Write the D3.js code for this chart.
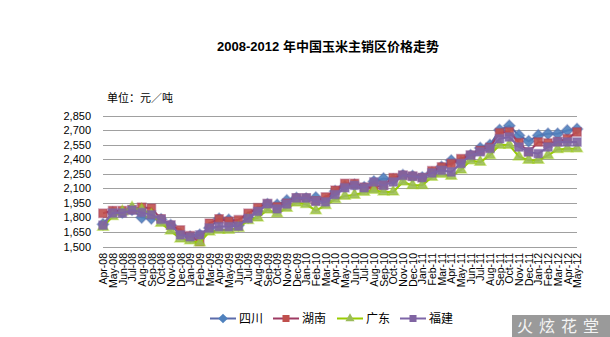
<!DOCTYPE html>
<html>
<head>
<meta charset="utf-8">
<script src="https://cdn.jsdelivr.net/npm/d3@7"></script>
<style>
  html, body { margin: 0; padding: 0; background: #fff; }
  svg { display: block; font-family: Arial, "Liberation Sans", "Noto Sans CJK SC", sans-serif; }
</style>
</head>
<body>
<svg id="chart" width="610" height="337"></svg>
<script>
// Monthly maize prices (yuan/ton) in the main consuming regions, Apr 2008 - May 2012
const months = [
  "Apr-08","May-08","Jun-08","Jul-08","Aug-08","Sep-08","Oct-08","Nov-08","Dec-08",
  "Jan-09","Feb-09","Mar-09","Apr-09","May-09","Jun-09","Jul-09","Aug-09","Sep-09","Oct-09","Nov-09","Dec-09",
  "Jan-10","Feb-10","Mar-10","Apr-10","May-10","Jun-10","Jul-10","Aug-10","Sep-10","Oct-10","Nov-10","Dec-10",
  "Jan-11","Feb-11","Mar-11","Apr-11","May-11","Jun-11","Jul-11","Aug-11","Sep-11","Oct-11","Nov-11","Dec-11",
  "Jan-12","Feb-12","Mar-12","Apr-12","May-12"
];

const sichuan = [
  1730,1850,1850,1880,1800,1790,1780,1720,1630,
  1600,1620,1690,1785,1775,1720,1800,1860,1935,1930,1975,2000,
  1995,2005,1970,2070,2120,2135,2110,2170,2200,2190,2235,2225,
  2210,2260,2320,2385,2370,2440,2515,2545,2700,2745,2645,2585,
  2645,2662,2662,2696,2710
];
const hunan = [
  1842,1870,1870,1880,1905,1895,1785,1720,1670,
  1610,1550,1740,1785,1760,1775,1842,1900,1940,1910,1945,2000,
  2000,1970,2010,2080,2150,2150,2110,2110,2130,2210,2235,2225,
  2210,2280,2320,2355,2405,2440,2490,2520,2672,2682,2570,2475,
  2577,2566,2580,2611,2680
];
const guangdong = [
  1700,1810,1860,1900,1880,1830,1740,1660,1580,
  1560,1540,1650,1670,1670,1690,1770,1795,1878,1840,1895,1950,
  1935,1870,1923,1985,2020,2030,2060,2080,2062,2062,2165,2130,
  2130,2215,2245,2225,2290,2385,2370,2440,2545,2545,2425,2390,
  2390,2440,2500,2508,2508
];
const fujian = [
  1720,1845,1845,1875,1850,1826,1780,1720,1620,
  1600,1620,1690,1705,1705,1710,1790,1862,1940,1888,1938,2000,
  2000,1965,1960,2035,2105,2130,2105,2165,2130,2165,2233,2223,
  2210,2258,2285,2268,2355,2440,2475,2510,2610,2628,2525,2475,
  2457,2525,2577,2577,2577
];
const yTicks = [1500,1650,1800,1950,2100,2250,2400,2550,2700,2850];

const series = [
  { name: "四川", values: sichuan,   line: "#5B6BAA", fill: "#4F81BD", shape: d3.symbolDiamond2, size: 85 },
  { name: "湖南", values: hunan,     line: "#9E3A63", fill: "#C0504D", shape: d3.symbolSquare2,  size: 90 },
  { name: "广东", values: guangdong, line: "#99CC00", fill: "#9BBB59", shape: d3.symbolTriangle2, size: 85 },
  { name: "福建", values: fujian,    line: "#7E66A8", fill: "#8064A2", shape: d3.symbolSquare2,  size: 90 }
];

const svg = d3.select("#chart");

const x = d3.scalePoint().domain(months).range([103, 577]);
const y = d3.scaleLinear().domain([1500, 2850]).range([246.5, 115.5]);

// Title and unit
svg.append("text")
  .attr("x", 328).attr("y", 51)
  .attr("text-anchor", "middle")
  .attr("font-size", 13).attr("font-weight", "bold")
  .attr("fill", "#000")
  .text("2008-2012 年中国玉米主销区价格走势");

svg.append("text")
  .attr("x", 107).attr("y", 102)
  .attr("font-size", 11)
  .attr("fill", "#000")
  .text("单位：元／吨");

// Horizontal gridlines
svg.append("g")
  .selectAll("line")
  .data(yTicks)
  .join("line")
  .attr("x1", 103).attr("x2", 577)
  .attr("y1", d => Math.round(y(d)) + 0.5)
  .attr("y2", d => Math.round(y(d)) + 0.5)
  .attr("stroke", "#A0A0A0").attr("stroke-width", 1);

// Y axis labels
const yAxis = d3.axisLeft(y).tickValues(yTicks).tickFormat(d3.format(",")).tickSize(0).tickPadding(0);
svg.append("g")
  .attr("transform", "translate(91,0)")
  .call(yAxis)
  .call(g => g.select(".domain").remove())
  .call(g => g.selectAll("text")
    .attr("font-size", 11).attr("fill", "#000")
    .attr("font-family", "Arial, 'Liberation Sans', sans-serif"));

// X axis labels (rotated)
const xAxis = d3.axisBottom(x).tickSize(0).tickPadding(0);
svg.append("g")
  .attr("transform", "translate(0,253)")
  .call(xAxis)
  .call(g => g.select(".domain").remove())
  .call(g => g.selectAll("text")
    .attr("font-size", 10.5).attr("fill", "#000")
    .attr("font-family", "Arial, 'Liberation Sans', sans-serif")
    .attr("text-anchor", "end")
    .attr("transform", "rotate(-90)")
    .attr("x", 0).attr("y", 0).attr("dy", "0.35em"));

// Lines and markers
const lineGen = d3.line().x((d, i) => x(months[i])).y(d => y(d));

series.forEach(s => {
  const g = svg.append("g");
  g.append("path")
    .datum(s.values)
    .attr("fill", "none")
    .attr("stroke", s.line)
    .attr("stroke-width", 2)
    .attr("d", lineGen);
  g.selectAll("path.marker")
    .data(s.values)
    .join("path")
    .attr("class", "marker")
    .attr("transform", (d, i) => `translate(${x(months[i])},${y(d)})`)
    .attr("d", d3.symbol().type(s.shape).size(s.size))
    .attr("fill", s.fill)
    .attr("fill-opacity", 0.9)
    .attr("stroke", s.line)
    .attr("stroke-opacity", 0.4)
    .attr("stroke-width", 1.5);
});

// Legend
const legendX = [210, 273, 337, 400];
const legend = svg.append("g");
series.forEach((s, i) => {
  const lx = legendX[i];
  const ly = 318.5;
  legend.append("line")
    .attr("x1", lx).attr("x2", lx + 26)
    .attr("y1", ly).attr("y2", ly)
    .attr("stroke", s.line).attr("stroke-width", 2);
  legend.append("path")
    .attr("transform", `translate(${lx + 13},${ly})`)
    .attr("d", d3.symbol().type(s.shape).size(s.size * 0.7))
    .attr("fill", s.fill);
  legend.append("text")
    .attr("x", lx + 29).attr("y", ly + 4.5)
    .attr("font-size", 12).attr("fill", "#000")
    .text(s.name);
});

// Corner stamp
svg.append("rect")
  .attr("x", 512).attr("y", 315).attr("width", 98).attr("height", 22)
  .attr("fill", "#9a9a9a");
svg.append("text")
  .attr("x", 561).attr("y", 332)
  .attr("text-anchor", "middle")
  .attr("font-size", 16).attr("fill", "#f4f4f4")
  .attr("letter-spacing", 6)
  .text("火炫花堂");
</script>
</body>
</html>
